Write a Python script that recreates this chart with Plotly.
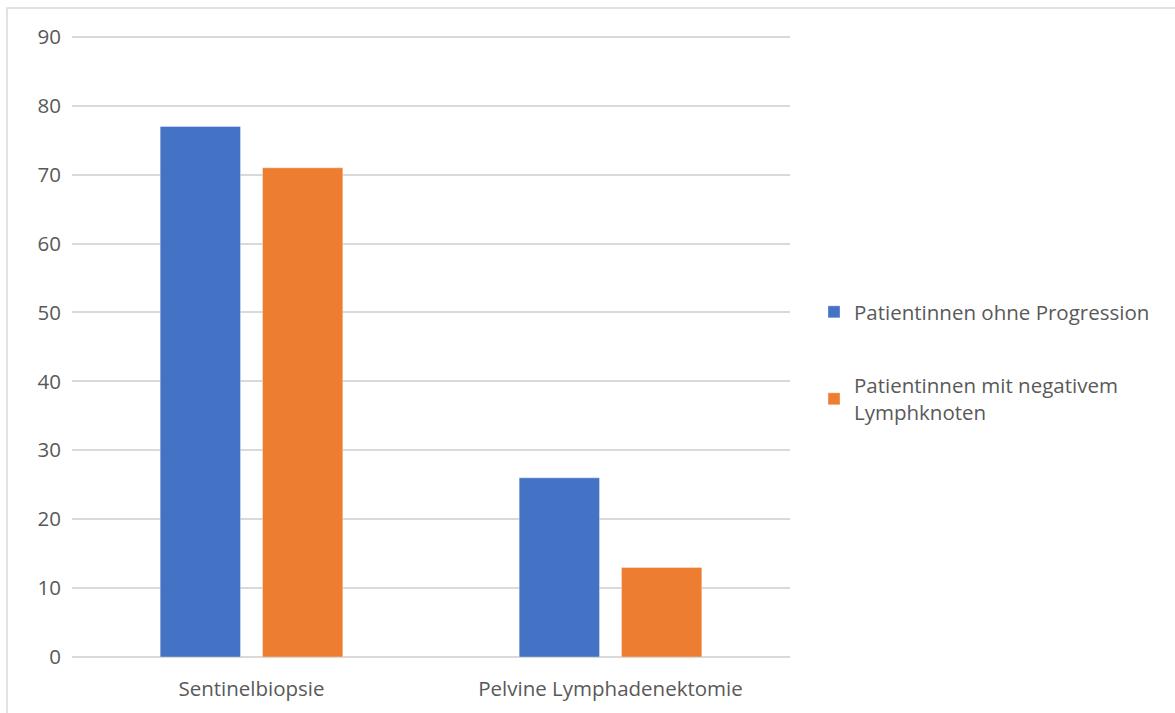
import plotly.graph_objects as go

categories = ["Sentinelbiopsie", "Pelvine Lymphadenektomie"]
series_names = ["Patientinnen ohne Progression", "Patientinnen mit negativem<br>Lymphknoten"]
ohne_progression = [77, 26]
negative_lk = [71, 13]
colors = ["#4472C4", "#ED7D31"]
y_ticks = [0, 10, 20, 30, 40, 50, 60, 70, 80, 90]

FONT = "Open Sans, Noto Sans, sans-serif"
FS = 20.5
GREY = "#595959"
GRID = "#D9D9D9"

fig = go.Figure()
for i, (name, vals) in enumerate(zip(series_names, [ohne_progression, negative_lk])):
    fig.add_trace(go.Bar(
        x=categories, y=vals, name=name,
        marker=dict(color=colors[i], line=dict(color="rgba(255,255,255,0.35)", width=1)),
        legendgroup=f"g{i}",
    ))

W, H = 1175, 713
Y_TOP = 91
ml, mr, mb = 72, 385, 56
# 90 sits at y=37px; the axis runs one unit above it so its gridline is kept
unit = (H - mb - 37) / 90
mt = round(37 - unit * (Y_TOP - 90))
pw, ph = W - ml - mr, H - mt - mb

def px_x(p):
    return (p - ml) / pw

def px_y(p):
    return (H - mb - p) / ph

fig.update_layout(
    width=W, height=H,
    margin=dict(l=ml, r=mr, t=mt, b=mb, autoexpand=False),
    paper_bgcolor="white", plot_bgcolor="white",
    barmode="group", bargap=0.43, bargroupgap=0.215,
    font=dict(family=FONT, size=FS, color=GREY),
    showlegend=True,
    legend=dict(
        x=px_x(814), y=px_y(292), xanchor="left", yanchor="top",
        font=dict(family=FONT, size=FS, color=GREY),
        tracegroupgap=44, itemwidth=30, bgcolor="rgba(0,0,0,0)",
    ),
    xaxis=dict(
        showgrid=False, showline=False, zeroline=False, automargin=False,
        ticks="", ticklabelstandoff=17,
        tickfont=dict(family=FONT, size=FS, color=GREY),
    ),
    yaxis=dict(
        range=[0, Y_TOP], tickvals=y_ticks, showgrid=True, automargin=False,
        gridcolor=GRID, gridwidth=1.5, zeroline=True,
        zerolinecolor=GRID, zerolinewidth=1.5, showline=False,
        ticks="", ticklabelstandoff=10,
        tickfont=dict(family=FONT, size=FS, color=GREY),
    ),
    shapes=[dict(
        type="rect", xref="paper", yref="paper",
        x0=px_x(7), x1=px_x(1200), y0=px_y(740), y1=px_y(8),
        line=dict(color=GRID, width=1.5), fillcolor="rgba(0,0,0,0)", layer="below",
    )],
)

fig.write_html("out.html")
